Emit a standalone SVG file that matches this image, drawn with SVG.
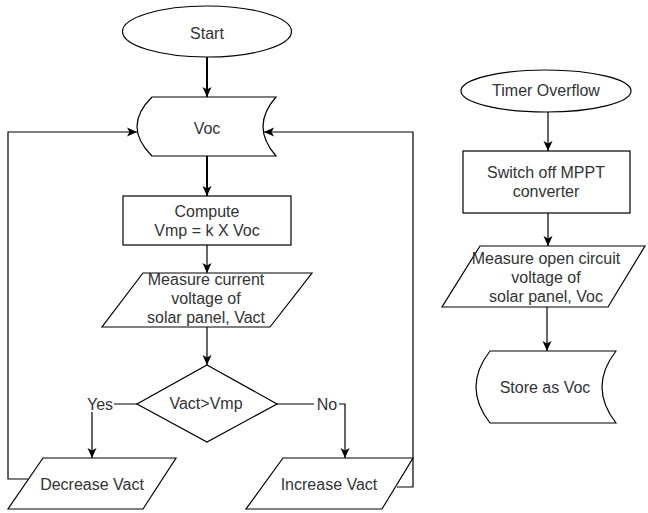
<svg xmlns="http://www.w3.org/2000/svg" width="648" height="513" viewBox="0 0 648 513">
<style>
.s{fill:#fff;stroke:#000;stroke-width:1.2}
.t{font-family:"Liberation Sans",Arial,sans-serif;font-size:16px;fill:#333;text-anchor:middle}
.c{fill:none;stroke:#000;stroke-width:1.2}
.ck{fill:none;stroke:#000;stroke-width:2}
</style>
<defs>
<marker id="a" markerUnits="userSpaceOnUse" markerWidth="10" markerHeight="10" refX="10" refY="5" orient="auto">
<path d="M0,0.5 L10,5 L0,9.5 L2.5,5 z" fill="#000"/>
</marker>
</defs>
<rect width="648" height="513" fill="#fff"/>
<g id="connectors">
<path class="ck" d="M207,57 V97" marker-end="url(#a)"/>
<path class="ck" d="M207,156 V196" marker-end="url(#a)"/>
<path class="c" d="M207,245 V273" marker-end="url(#a)"/>
<path class="c" d="M207,327 V365" marker-end="url(#a)"/>
<path class="c" d="M137,404 H92 V458" marker-end="url(#a)"/>
<path class="c" d="M277,404 H345 V458" marker-end="url(#a)"/>
<path class="c" d="M28,479 H8 V132 H137" marker-end="url(#a)"/>
<path class="c" d="M397,487 H413 V132 H264" marker-end="url(#a)"/>
<path class="c" d="M548,112 V151" marker-end="url(#a)"/>
<path class="c" d="M548,213 V246" marker-end="url(#a)"/>
<path class="c" d="M547,307 V351" marker-end="url(#a)"/>
<rect x="86" y="396" width="28" height="16" fill="#fff"/>
<text class="t" x="100" y="410">Yes</text>
<rect x="314" y="396" width="25" height="16" fill="#fff"/>
<text class="t" x="327" y="410">No</text>
</g>
<g id="start">
<ellipse class="s" cx="207" cy="31.5" rx="84.5" ry="25.5"/>
<text class="t" x="207" y="39">Start</text>
</g>
<g id="voc">
<path class="s" d="M152,97 H276 Q250,126.5 276,156 H152 Q122,126.5 152,97 Z"/>
<text class="t" x="207" y="134">Voc</text>
</g>
<g id="compute">
<rect class="s" x="123" y="196" width="168" height="49"/>
<text class="t" x="207" y="217">Compute</text>
<text class="t" x="207" y="236">Vmp = k X Voc</text>
</g>
<g id="measure">
<path class="s" d="M143,273 H312 L270,327 H102 Z"/>
<text class="t" x="206" y="285">Measure current</text>
<text class="t" x="206" y="304">voltage of</text>
<text class="t" x="206" y="323">solar panel, Vact</text>
</g>
<g id="decision">
<path class="s" d="M207,365 L277,404 L207,442 L137,404 Z"/>
<text class="t" x="206" y="409">Vact&gt;Vmp</text>
</g>
<g id="decrease">
<path class="s" d="M43,458 H176 L143,509 H8 Z"/>
<text class="t" x="92" y="490">Decrease Vact</text>
</g>
<g id="increase">
<path class="s" d="M283,458 H413 L382,509 H246 Z"/>
<text class="t" x="329" y="490">Increase Vact</text>
</g>
<g id="timer">
<ellipse class="s" cx="546" cy="91" rx="85" ry="21"/>
<text class="t" x="546" y="96">Timer Overflow</text>
</g>
<g id="switch">
<rect class="s" x="463" y="151" width="167" height="62"/>
<text class="t" x="546" y="178">Switch off MPPT</text>
<text class="t" x="546" y="197">converter</text>
</g>
<g id="measureoc">
<path class="s" d="M480,246 H645 L608,307 H442 Z"/>
<text class="t" x="546" y="264">Measure open circuit</text>
<text class="t" x="546" y="283">voltage of</text>
<text class="t" x="546" y="302">solar panel, Voc</text>
</g>
<g id="store">
<path class="s" d="M490,351 H616 Q588,387 616,423 H490 Q462,387 490,351 Z"/>
<text class="t" x="545" y="393">Store as Voc</text>
</g>
</svg>
